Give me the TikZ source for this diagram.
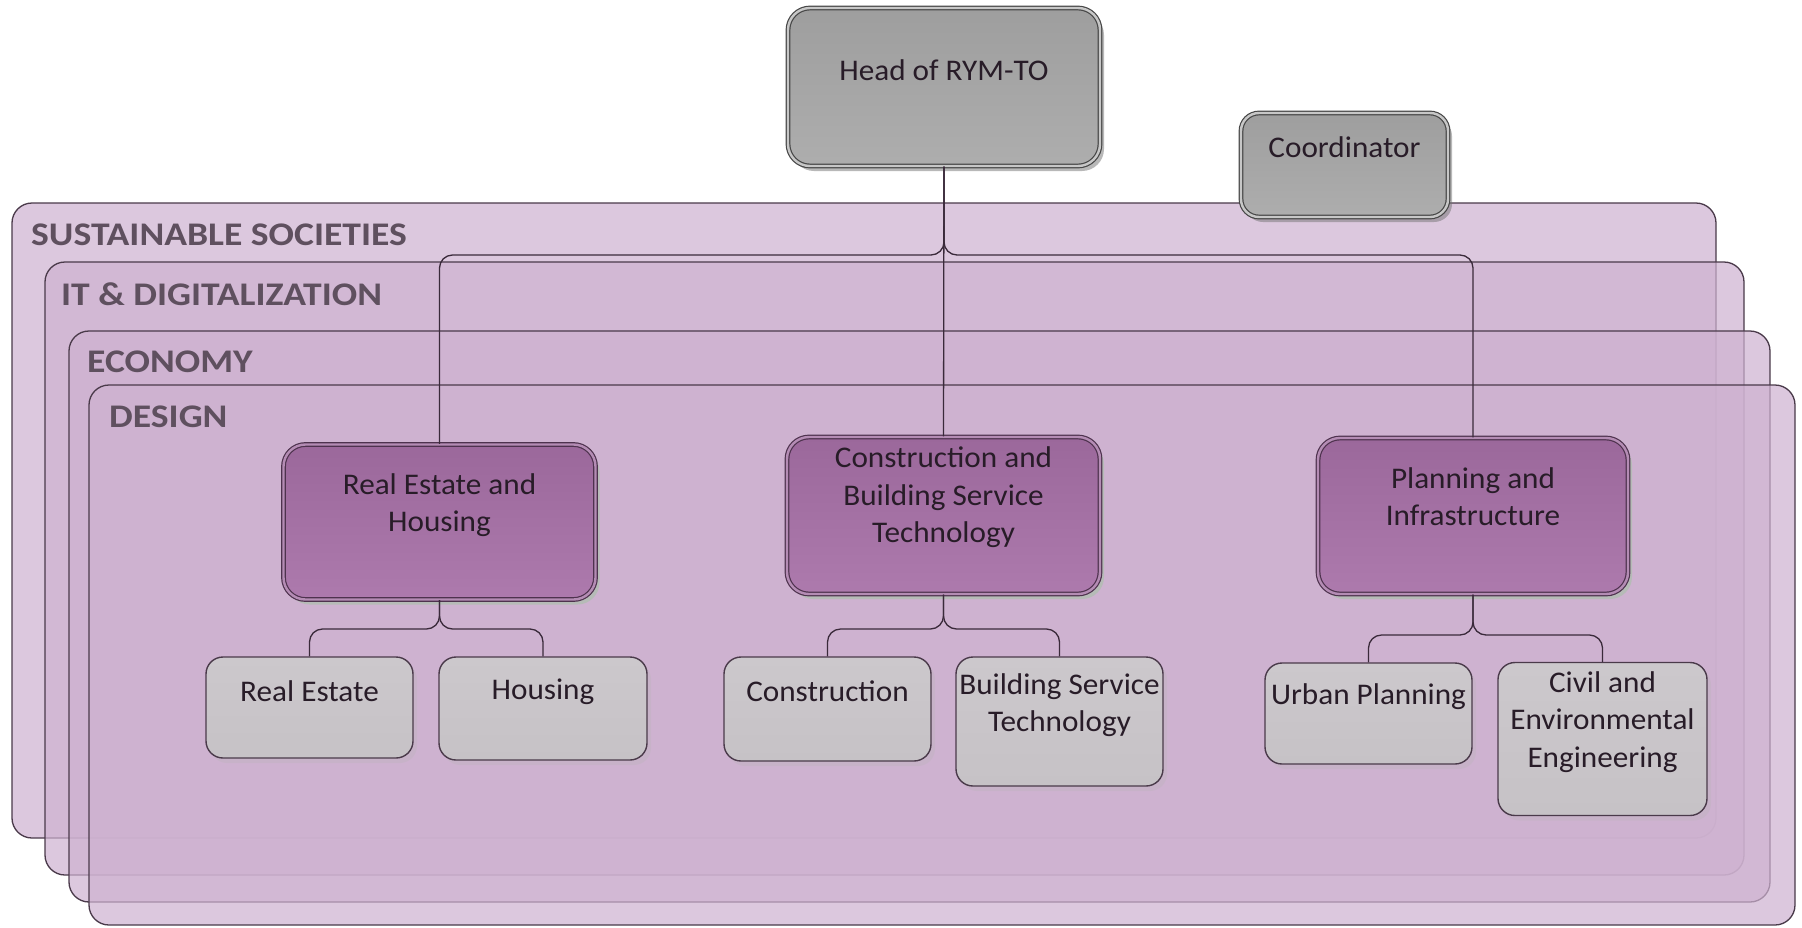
\documentclass[tikz,border=0pt]{standalone}
\usepackage{fontspec}
\setmainfont[FakeStretch=1.04]{Carlito}
\newfontfamily\hdrfont[FakeStretch=1.14]{Carlito}
\usetikzlibrary{shadows}
\definecolor{layerfill}{RGB}{206,178,208}
\definecolor{layerline}{RGB}{74,58,74}
\definecolor{labcol}{RGB}{95,80,95}
\definecolor{txtcol}{RGB}{40,28,40}
\definecolor{conncol}{RGB}{58,42,58}
\definecolor{pdark}{RGB}{78,50,78}
\definecolor{pgap}{RGB}{180,140,180}
\definecolor{ptop}{RGB}{155,104,155}
\definecolor{pbot}{RGB}{173,122,173}
\definecolor{gtop}{RGB}{204,200,204}
\definecolor{gbot}{RGB}{198,194,198}
\tikzset{
  layer/.style={fill=layerfill, fill opacity=0.7, draw=layerline, line width=1.3pt, rounded corners=20pt},
  laylab/.style={anchor=west, inner sep=0pt, text=labcol, font=\hdrfont\fontsize{33}{36}\selectfont\bfseries},
  txt/.style={inner sep=0pt, align=center, text=txtcol, font=\fontsize{30}{37.5}\selectfont},
  conn/.style={draw=conncol, line width=1.3pt},
  headbox/.style={draw=black!72, line width=1.2pt, double=black!22, double distance=2.4pt,
    top color=black!38, bottom color=black!32, rounded corners=22pt, inner sep=0pt,
    drop shadow={shadow xshift=4pt, shadow yshift=-5pt, opacity=0.5, fill=black!55}},
  purplebox/.style={draw=pdark, line width=1.2pt, double=pgap, double distance=2.4pt,
    top color=ptop, bottom color=pbot,
    rounded corners=22pt, inner sep=0pt,
    drop shadow={shadow xshift=4pt, shadow yshift=-5pt, opacity=0.45, fill=black!55!green!40}},
  greybox/.style={draw=layerline, line width=1.4pt,
    top color=gtop, bottom color=gbot,
    rounded corners=17pt, inner sep=0pt,
    drop shadow={shadow xshift=4pt, shadow yshift=-5pt, opacity=0.5, fill=black!60!violet!30}},
}
\begin{document}
\begin{tikzpicture}[x=1pt,y=-1pt]
\useasboundingbox (0,0) rectangle (1802,927);
\fill[white] (0,0) rectangle (1802,927);

% layers
\draw[layer] (12,203) rectangle (1716,838);
\draw[layer] (45,262) rectangle (1744,875);
\draw[layer] (69,331) rectangle (1770,902);
\draw[layer] (89,385) rectangle (1795,925);

\node[laylab] (l1) at (31,235) {SUSTAINABLE SOCIETIES};
\node[laylab] (l2) at (61,294) {IT \& DIGITALIZATION};
\node[laylab] (l3) at (87,362) {ECONOMY};
\node[laylab] (l4) at (109,417) {DESIGN};

% boxes
\node[headbox, minimum width=312pt, minimum height=158pt] (head) at (944,87) {};
\node[headbox, minimum width=207pt, minimum height=104pt, rounded corners=18pt] (coord) at (1344.5,165) {};

\node[purplebox, minimum width=312pt, minimum height=155pt] (reh) at (439.5,522) {};
\node[purplebox, minimum width=313pt, minimum height=157pt] (cbst) at (943.5,515.5) {};
\node[purplebox, minimum width=310pt, minimum height=156pt] (pi) at (1473,516) {};

\node[greybox, minimum width=207pt, minimum height=101pt] (re) at (309.5,707.5) {};
\node[greybox, minimum width=208pt, minimum height=103pt] (ho) at (543,708.5) {};
\node[greybox, minimum width=207pt, minimum height=104pt] (co) at (827.5,709) {};
\node[greybox, minimum width=207pt, minimum height=129pt] (bst) at (1059.5,721.5) {};
\node[greybox, minimum width=207pt, minimum height=101pt] (up) at (1368.5,713.5) {};
\node[greybox, minimum width=209pt, minimum height=153pt] (cee) at (1602.5,739) {};

% connectors
\coordinate (jt) at (944,255);
\coordinate (j1) at (439.5,629);
\coordinate (j2) at (943.5,629);
\coordinate (j3) at (1473,635);

\draw[conn] (head.south) -- (cbst.north);
\draw[conn, rounded corners=13pt] (head.south) -- (jt) -- (jt -| reh.north) -- (reh.north);
\draw[conn, rounded corners=13pt] (head.south) -- (jt) -- (jt -| pi.north) -- (pi.north);

\draw[conn, rounded corners=13pt] (reh.south) -- (j1) -- (j1 -| re.north) -- (re.north);
\draw[conn, rounded corners=13pt] (reh.south) -- (j1) -- (j1 -| ho.north) -- (ho.north);
\draw[conn, rounded corners=13pt] (cbst.south) -- (j2) -- (j2 -| co.north) -- (co.north);
\draw[conn, rounded corners=13pt] (cbst.south) -- (j2) -- (j2 -| bst.north) -- (bst.north);
\draw[conn, rounded corners=13pt] (pi.south) -- (j3) -- (j3 -| up.north) -- (up.north);
\draw[conn, rounded corners=13pt] (pi.south) -- (j3) -- (j3 -| cee.north) -- (cee.north);

% texts
\node[txt] (thead) at (944,70) {Head of RYM-TO};
\node[txt] (tcoord) at (1344.5,147) {Coordinator};
\node[txt] (treh) at (439.5,505) {Real Estate and\\Housing};
\node[txt] (tcbst) at (943.5,497.5) {Construction and\\Building Service\\Technology};
\node[txt] (tpi) at (1473,496.5) {Planning and\\Infrastructure};
\node[txt] (tre) at (309.5,691) {Real Estate};
\node[txt] (tho) at (543,692) {Housing};
\node[txt] (tco) at (827.5,691) {Construction};
\node[txt] (tbst) at (1059.5,705) {Building Service\\Technology};
\node[txt] (tup) at (1368.5,697) {Urban Planning};
\node[txt] (tcee) at (1602.5,722) {Civil and\\Environmental\\Engineering};
\end{tikzpicture}
\end{document}
